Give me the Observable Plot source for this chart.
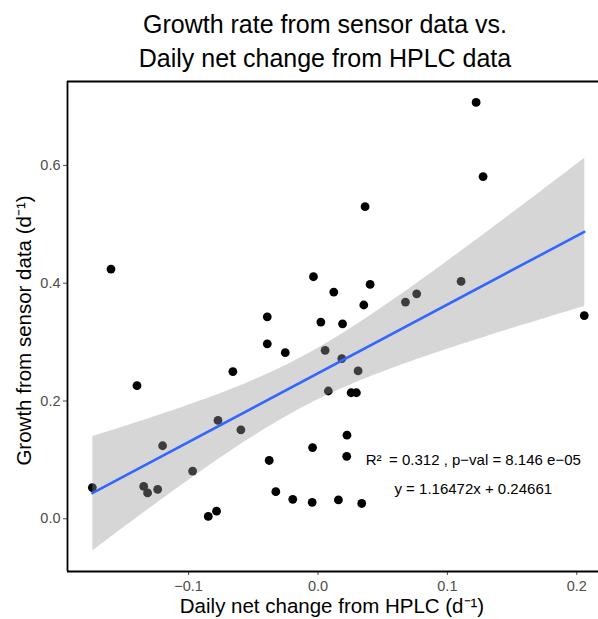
<!DOCTYPE html>
<html>
<head>
<meta charset="utf-8">
<script src="https://cdn.jsdelivr.net/npm/d3@7"></script>
<script src="https://cdn.jsdelivr.net/npm/@observablehq/plot@0.6"></script>
<style>
  html, body { margin: 0; padding: 0; background: #fff; overflow: hidden; }
  #chart svg { display: block; }
</style>
</head>
<body>
<div id="chart"></div>
<script>
// Daily net change from HPLC (x) vs growth from sensor data (y)
const hplcChange = [
  -0.1744, -0.160, -0.1399, -0.1347, -0.1317, -0.1239, -0.1201, -0.0969, -0.0848, -0.0784,
  -0.0773, -0.0658, -0.0596, -0.0392, -0.0392, -0.0377, -0.0326, -0.0253, -0.0195, -0.0045,
  -0.0042, -0.0035, 0.0022, 0.0055, 0.0080, 0.0122, 0.0158, 0.0184, 0.0190, 0.0224,
  0.0222, 0.0256, 0.0297, 0.0310, 0.0338, 0.0354, 0.0364, 0.0403, 0.0676, 0.0763,
  0.1106, 0.1222, 0.1276, 0.2058
];
const sensorGrowth = [
  0.053, 0.424, 0.226, 0.055, 0.044, 0.050, 0.124, 0.081, 0.004, 0.013,
  0.167, 0.250, 0.151, 0.343, 0.297, 0.099, 0.046, 0.282, 0.033, 0.028,
  0.121, 0.411, 0.334, 0.286, 0.217, 0.385, 0.032, 0.272, 0.331, 0.142,
  0.106, 0.214, 0.214, 0.251, 0.026, 0.363, 0.530, 0.398, 0.368, 0.382,
  0.403, 0.707, 0.581, 0.345
];
const xTicks = [-0.1, 0.0, 0.1, 0.2];
const yTicks = [0.0, 0.2, 0.4, 0.6];
const titleLines = ["Growth rate from sensor data vs.", "Daily net change from HPLC data"];
const xLabel = "Daily net change from HPLC (d\u207B\u00B9)";
const yLabel = "Growth from sensor data (d\u207B\u00B9)";
const statLines = [
  {x: 0.12, y: 0.10, text: "R\u00B2\u2002= 0.312 , p\u2212val = 8.146 e\u221205"},
  {x: 0.12, y: 0.05, text: "y = 1.16472x + 0.24661"}
];

const points = hplcChange.map((x, i) => ({x, y: sensorGrowth[i]}));
const xDomain = [-0.1936, 0.2168];
const yDomain = [-0.0895, 0.7425];
const font = "'Liberation Sans', Arial, Helvetica, sans-serif";

const chart = Plot.plot({
  width: 598,
  height: 619,
  marginTop: 81,
  marginBottom: 48,
  marginLeft: 67,
  marginRight: 0,
  style: {fontFamily: font, background: "#fff", overflow: "visible"},
  x: {domain: xDomain, label: null},
  y: {domain: yDomain, label: null},
  marks: [
    Plot.dot(points, {x: "x", y: "y", r: 4.4, fill: "#000", stroke: "none"}),
    Plot.linearRegressionY(points, {x: "x", y: "y", ci: 0.95, stroke: "#3366FF", strokeWidth: 2.6, fill: "#999999", fillOpacity: 0.4}),
    Plot.axisX({ticks: xTicks, tickFormat: d3.format(".1f"), tickSize: 4, tickPadding: 5, fontSize: 14.5, color: "#4D4D4D", label: null}),
    Plot.axisY({ticks: yTicks, tickFormat: d3.format(".1f"), tickSize: 4, tickPadding: 3, fontSize: 14.5, color: "#4D4D4D", label: null}),
    Plot.ruleX([xDomain[0]], {stroke: "#000", strokeWidth: 1.8}),
    Plot.ruleY([yDomain[0], yDomain[1]], {stroke: "#000", strokeWidth: 1.8}),
    Plot.text(statLines, {x: "x", y: "y", text: "text", fontSize: 15, fill: "#000"}),
    Plot.text([xLabel], {frameAnchor: "bottom", textAnchor: "middle", lineAnchor: "bottom", dx: -1, dy: 41, fontSize: 20.5, fill: "#000"}),
    Plot.text([yLabel], {frameAnchor: "left", textAnchor: "middle", lineAnchor: "bottom", rotate: -90, dx: -37, dy: 4, fontSize: 20.5, fill: "#000"}),
    Plot.text([titleLines[0]], {frameAnchor: "top", textAnchor: "middle", lineAnchor: "bottom", dx: -8, dy: -49, fontSize: 25, fill: "#000"}),
    Plot.text([titleLines[1]], {frameAnchor: "top", textAnchor: "middle", lineAnchor: "bottom", dx: -8, dy: -15, fontSize: 25, fill: "#000"})
  ]
});
document.getElementById("chart").appendChild(chart);
</script>
</body>
</html>
